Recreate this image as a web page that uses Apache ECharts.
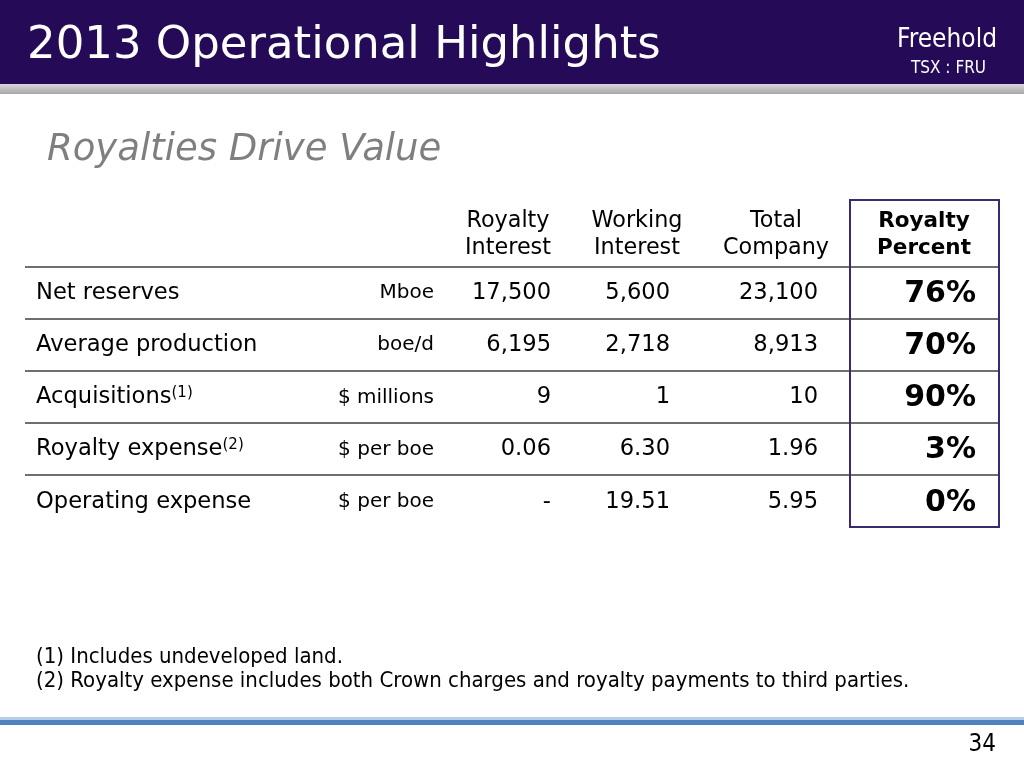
<!DOCTYPE html>
<html><head><meta charset="utf-8">
<script src="https://cdn.jsdelivr.net/npm/echarts@6/dist/echarts.min.js"></script>
<style>html,body{margin:0;padding:0;background:#fff}#c{width:1024px;height:768px}</style>
</head><body><div id="c"></div>
<script>
const title = '2013 Operational Highlights';
const subtitle = 'Royalties Drive Value';
const columns = [['Royalty','Interest'],['Working','Interest'],['Total','Company'],['Royalty','Percent']];
const rowLabels = ['Net reserves','Average production','Acquisitions','Royalty expense','Operating expense'];
const rowNotes = ['', '', '(1)', '(2)', ''];
const units = ['Mboe','boe/d','$ millions','$ per boe','$ per boe'];
const royaltyInterest = ['17,500','6,195','9','0.06','-'];
const workingInterest = ['5,600','2,718','1','6.30','19.51'];
const totalCompany = ['23,100','8,913','10','1.96','5.95'];
const royaltyPercent = ['76%','70%','90%','3%','0%'];
const footnotes = ['(1) Includes undeveloped land.','(2) Royalty expense includes both Crown charges and royalty payments to third parties.'];
const pageNumber = '34';

const F = '"DejaVu Sans", Verdana, sans-serif';
const FC = '"DejaVu Sans Condensed", "DejaVu Sans", sans-serif';
const g = [];
// header
g.push({type:'rect',shape:{x:0,y:0,width:1024,height:84},style:{fill:'#250a58'}});
g.push({type:'rect',shape:{x:0,y:84,width:1024,height:10},style:{fill:{type:'linear',x:0,y:0,x2:0,y2:1,colorStops:[{offset:0,color:'#d8d8d8'},{offset:1,color:'#a8a8a8'}]}}});
g.push({type:'text',x:27,y:46,style:{text:title,fill:'#fff',font:'45px '+F,textVerticalAlign:'middle'}});
g.push({type:'text',x:997,y:40,style:{text:'Freehold',fill:'#fff',font:'26px '+FC,textAlign:'right',textVerticalAlign:'middle'}});
g.push({type:'text',x:986,y:69,style:{text:'TSX : FRU',fill:'#fff',font:'17px '+FC,textAlign:'right',textVerticalAlign:'middle'}});
g.push({type:'text',x:47,y:150,style:{text:subtitle,fill:'#7f7f7f',font:'italic 37px '+F,textVerticalAlign:'middle'}});
// header columns
const colCenter = [508,637,776,924];
const colRight = [551,670,818,976];
columns.forEach((c,i)=>{
  const bold = i===3;
  c.forEach((t,j)=>{
    g.push({type:'text',x:colCenter[i],y:221+j*27,style:{text:t,fill:'#000',font:(bold?'bold 21.5px ':'22.3px ')+F,textAlign:'center',textVerticalAlign:'middle'}});
  });
});
// lines
const lineY = [267,319,371,423,475];
lineY.forEach(y=>{
  g.push({type:'line',shape:{x1:25,y1:y,x2:850,y2:y},style:{stroke:'#6e6e6e',lineWidth:2}});
  g.push({type:'line',shape:{x1:850,y1:y,x2:999,y2:y},style:{stroke:'#6e6e6e',lineWidth:2}});
});
g.push({type:'rect',shape:{x:850,y:200,width:149,height:327},style:{fill:'none',stroke:'#3b2a6e',lineWidth:2}});
// rows
const vals = [royaltyInterest, workingInterest, totalCompany];
rowLabels.forEach((lab,i)=>{
  const y = 293 + i*52.2;
  g.push({type:'text',x:36,y:y,style:{text:'{a|'+lab+'}'+(rowNotes[i]?'{s|'+rowNotes[i]+'}':''),
    rich:{a:{font:'22.6px '+F,fill:'#000'},s:{font:'15px '+F,fill:'#000',padding:[0,0,9,0]}},textVerticalAlign:'middle'}});
  g.push({type:'text',x:434,y:y,style:{text:units[i],fill:'#000',font:'20px '+F,textAlign:'right',textVerticalAlign:'middle'}});
  vals.forEach((arr,k)=>{
    g.push({type:'text',x:colRight[k],y:y,style:{text:arr[i],fill:'#000',font:'22.6px '+F,textAlign:'right',textVerticalAlign:'middle'}});
  });
  g.push({type:'text',x:colRight[3],y:y+1,style:{text:royaltyPercent[i],fill:'#000',font:'bold 30px '+F,textAlign:'right',textVerticalAlign:'middle'}});
});
footnotes.forEach((t,i)=>{
  g.push({type:'text',x:36,y:657+i*24,style:{text:t,fill:'#000',font:'22px '+FC,textVerticalAlign:'middle'}});
});
g.push({type:'rect',shape:{x:0,y:717,width:1024,height:3},style:{fill:'#b8cce4'}});
g.push({type:'rect',shape:{x:0,y:720,width:1024,height:5},style:{fill:'#4f81bd'}});
g.push({type:'text',x:996,y:745,style:{text:pageNumber,fill:'#000',font:'24px '+FC,textAlign:'right',textVerticalAlign:'middle'}});

const chart = echarts.init(document.getElementById('c'));
chart.setOption({animation:false,graphic:{elements:g}});
</script></body></html>
